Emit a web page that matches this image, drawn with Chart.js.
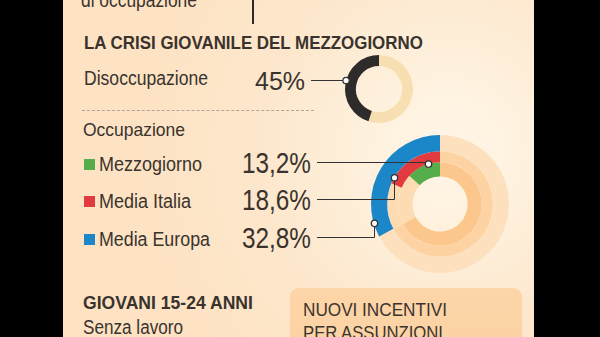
<!DOCTYPE html>
<html>
<head>
<meta charset="utf-8">
<script src="https://cdn.jsdelivr.net/npm/chart.js@4"></script>
<style>
  html, body { margin: 0; padding: 0; }
  body { width: 600px; height: 337px; overflow: hidden; background: #000; position: relative;
         font-family: "Liberation Sans", Arial, sans-serif; color: #3a332d; }
  #panel { position: absolute; left: 63px; top: 0; width: 471px; height: 337px;
           background: radial-gradient(circle at 385px 150px, #fff6e8 0px, #fef0dc 90px, #fde7cc 190px, #fde3c4 300px); }
  .t { position: absolute; white-space: nowrap; line-height: 1; transform-origin: 0 0; }
  .bold { font-weight: bold; }
  .sq { position: absolute; width: 11px; height: 11px; }
  #vline { position: absolute; left: 252px; top: 0; width: 2px; height: 24px; background: #2e2a27; }
  #dash { position: absolute; left: 82px; top: 110px; width: 232px; height: 0; border-top: 1px dashed #b3a596; }
  #box { position: absolute; left: 290px; top: 288px; width: 232px; height: 70px; border-radius: 9px;
         background: linear-gradient(180deg, #fdd5a8, #fcd2a3); }
  canvas { position: absolute; left: 0; top: 0; pointer-events: none; }
</style>
</head>
<body>
<div id="panel"></div>
<div id="vline"></div>
<div class="t" data-w="116" style="left:81px; top:-10px; font-size:20px;">di occupazione</div>
<div class="t bold" data-w="339" style="left:84px; top:33px; font-size:19px;">LA CRISI GIOVANILE DEL MEZZOGIORNO</div>
<div class="t" data-w="124" style="left:84px; top:68px; font-size:20px;">Disoccupazione</div>
<div class="t" id="disValue" data-w="50" style="left:255px; top:68px; font-size:26px;"></div>
<div id="dash"></div>
<div class="t" data-w="102" style="left:83px; top:120px; font-size:19px;">Occupazione</div>
<div id="legend"></div>
<div id="box"></div>
<div class="t bold" data-w="170" style="left:83px; top:293px; font-size:19px;">GIOVANI 15-24 ANNI</div>
<div class="t" data-w="100" style="left:83px; top:317px; font-size:20px;">Senza lavoro</div>
<div class="t" data-w="144" style="left:303px; top:300px; font-size:19px;">NUOVI INCENTIVI</div>
<div class="t" data-w="140" style="left:303px; top:323px; font-size:19px;">PER ASSUNZIONI</div>
<canvas id="disChart" width="600" height="337"></canvas>
<canvas id="occChart" width="600" height="337"></canvas>
<script>
// Youth unemployment share in the South
const disoccupazione = 45;

// Employment rate, from inner ring to outer ring
const occLabels = ["Mezzogiorno", "Media Italia", "Media Europa"];
const occValues = [13.2, 18.6, 32.8];

const occColors = ["#56ae4b", "#e23b3f", "#1b86c8"];
const ringRest = ["#fcc78d", "#fdd3a3", "#fde1bf"];
const ringLight = "#fddcb4";

const fmt = v => v.toFixed(1).replace(".", ",") + "%";

// Text rows on the left
document.getElementById("disValue").textContent = disoccupazione + "%";
const rowTops = [154, 191, 229];
const nameWidths = [103, 92, 111];
const legend = document.getElementById("legend");
occLabels.forEach((name, i) => {
  legend.innerHTML += `
    <div class="sq" style="left:84px; top:${rowTops[i] + 5}px; background:${occColors[i]}"></div>
    <div class="t" data-w="${nameWidths[i]}" style="left:99px; top:${rowTops[i]}px; font-size:20px;">${name}</div>
    <div class="t" id="occValue${i}" data-w="69" style="left:242px; top:${rowTops[i] - 5}px; font-size:29px;">${fmt(occValues[i])}</div>`;
});

// squeeze the text into a condensed look
document.querySelectorAll(".t[data-w]").forEach(el => {
  const w = el.getBoundingClientRect().width;
  el.style.transform = `scaleX(${(+el.dataset.w / w).toFixed(3)})`;
});

function drawDot(ctx, x, y) {
  ctx.beginPath();
  ctx.arc(x, y, 3.2, 0, Math.PI * 2);
  ctx.fillStyle = "#ffffff";
  ctx.fill();
  ctx.lineWidth = 1.3;
  ctx.strokeStyle = "#333";
  ctx.stroke();
}

function labelAnchor(id, k) {
  const r = document.getElementById(id).getBoundingClientRect();
  return { x: r.right + 6, y: Math.round(r.top + r.height * k) + 0.5 };
}

// Line from "45%" to the left edge of the small ring
const disConnector = {
  id: "disConnector",
  afterDraw(chart) {
    const ctx = chart.ctx;
    const arc = chart.getDatasetMeta(0).data[0];
    const a = labelAnchor("disValue", 0.48);
    const dy = a.y - arc.y;
    const px = arc.x - Math.sqrt(arc.outerRadius * arc.outerRadius - dy * dy);
    ctx.save();
    ctx.strokeStyle = "#333";
    ctx.lineWidth = 1;
    ctx.beginPath();
    ctx.moveTo(a.x, a.y);
    ctx.lineTo(px, a.y);
    ctx.stroke();
    drawDot(ctx, px, a.y);
    ctx.restore();
  }
};

// Elbow lines from each value to its ring
const dotPlace = [0.36, 0.9, 0.9];
const occConnector = {
  id: "occConnector",
  afterDraw(chart) {
    const ctx = chart.ctx;
    ctx.save();
    occValues.forEach((v, i) => {
      const meta = chart.getDatasetMeta(2 - i);
      const arc = meta.data[meta.data.length - 1];
      const ang = arc.endAngle - dotPlace[i] * (arc.endAngle - arc.startAngle);
      const px = Math.round(arc.x + Math.cos(ang) * arc.outerRadius) + 0.5;
      const py = arc.y + Math.sin(ang) * arc.outerRadius;
      const a = labelAnchor("occValue" + i, 0.44);
      ctx.strokeStyle = "#333";
      ctx.lineWidth = 1;
      ctx.beginPath();
      ctx.moveTo(a.x, a.y);
      ctx.lineTo(px, a.y);
      ctx.lineTo(px, py);
      ctx.stroke();
      drawDot(ctx, px, py);
    });
    ctx.restore();
  }
};

const baseOptions = {
  responsive: false,
  animation: false,
  events: [],
  plugins: { legend: { display: false }, tooltip: { enabled: false } }
};

new Chart(document.getElementById("disChart"), {
  type: "doughnut",
  data: {
    labels: ["Altri", "Disoccupati"],
    datasets: [{
      data: [100 - disoccupazione, disoccupazione],
      backgroundColor: ["#f8dfb2", "#2e2c2b"],
      borderWidth: 0
    }]
  },
  options: { ...baseOptions, cutout: "68%",
    layout: { padding: { left: 345, right: 187, top: 55, bottom: 214 } } },
  plugins: [disConnector]
});

// Outer ring first: Europa, then Italia, then Mezzogiorno
const europa = occValues[2];
const datasets = [2, 1, 0].map(i => {
  const v = occValues[i];
  const data = i === 2 ? [100 - v, v] : [100 - europa, europa - v, v];
  const colors = i === 2 ? [ringRest[i], occColors[i]] : [ringRest[i], ringLight, occColors[i]];
  return { label: occLabels[i], data, backgroundColor: colors, borderWidth: 0, weight: [14, 11, 16][i] };
});

new Chart(document.getElementById("occChart"), {
  type: "doughnut",
  data: { labels: ["", "", ""], datasets },
  options: { ...baseOptions, cutout: "40%",
    layout: { padding: { left: 371, right: 91, top: 135, bottom: 64 } } },
  plugins: [occConnector]
});
</script>
</body>
</html>
